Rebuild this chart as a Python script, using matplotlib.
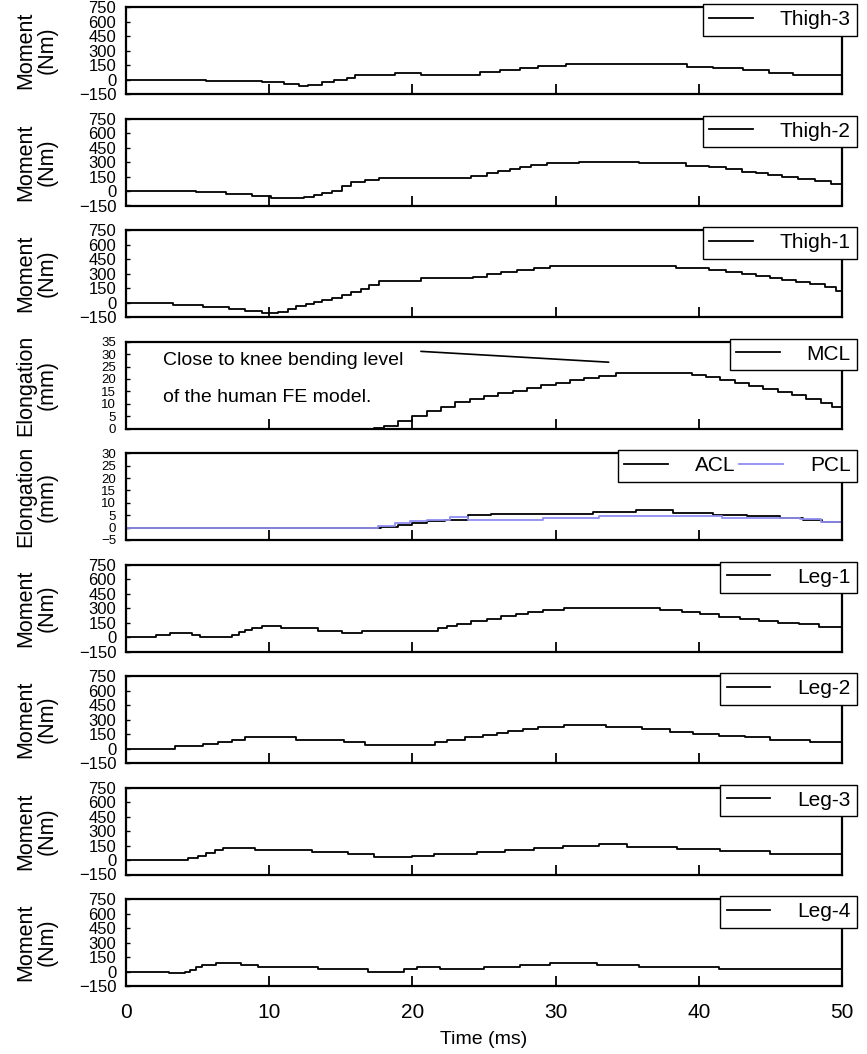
import matplotlib
matplotlib.use("Agg")
import matplotlib.pyplot as plt

plt.rcParams['font.family'] = ['Liberation Sans', 'DejaVu Sans']

# step breakpoints (ms) and values for every channel
t_thigh3 = [0, 5.6, 9.5, 11.0, 12.1, 12.7, 13.7, 14.5, 15.4, 16.0, 18.8, 20.6, 24.7, 26.1, 27.5, 28.8,
            30.7, 39.2, 41.0, 43.1, 44.9, 46.6, 50]
m_thigh3 = [0, -10, -30, -50, -70, -55, -30, 0, 20, 45, 70, 45, 75, 100, 120, 140,
            160, 135, 115, 95, 70, 45, 45]

t_thigh2 = [0, 4.9, 7.0, 8.8, 10.1, 12.4, 13.1, 13.7, 14.4, 15.1, 15.7, 16.7, 17.7, 24.1, 25.2, 26.0,
            26.8, 27.5, 28.3, 29.4, 31.6, 35.8, 39.1, 40.7, 41.9, 43.0, 44.0, 44.8, 45.8, 46.9,
            48.1, 49.2, 50]
m_thigh2 = [0, -10, -35, -55, -75, -60, -40, -20, 5, 50, 90, 115, 140, 160, 185, 205,
            225, 250, 270, 290, 305, 290, 265, 245, 225, 200, 185, 165, 145, 120,
            105, 75, 75]

t_thigh1 = [0, 3.3, 5.4, 7.2, 8.3, 9.5, 10.6, 11.3, 11.9, 12.6, 13.1, 13.7, 14.4, 15.1, 15.7, 16.4,
            17.0, 17.7, 20.6, 24.2, 25.2, 26.2, 27.3, 28.5, 29.6, 38.4, 40.7, 41.9, 43.0, 44.0,
            45.0, 45.8, 46.8, 47.8, 48.8, 49.6, 50]
m_thigh1 = [0, -25, -45, -70, -90, -110, -95, -65, -40, -15, 5, 30, 50, 75, 110, 145,
            185, 225, 250, 270, 295, 315, 335, 355, 375, 360, 340, 320, 300, 275,
            255, 235, 215, 190, 165, 120, 120]

t_mcl = [0, 17.3, 18, 19, 20, 21, 22, 23, 24, 25, 26, 27, 28, 29, 30, 31, 32, 33, 34.2, 39.5,
         40.5, 41.5, 42.5, 43.5, 44.5, 45.5, 46.5, 47.5, 48.5, 49.3, 50]
e_mcl = [0, 0.3, 1.2, 3.2, 5.2, 7.0, 8.8, 10.5, 11.9, 13.1, 14.2, 15.3, 16.3, 17.4, 18.4, 19.4,
         20.4, 21.3, 22.6, 21.5, 20.6, 19.6, 18.5, 17.3, 16.1, 14.8, 13.4, 11.9, 10.3, 8.6, 7.3]

t_acl = [0, 17.8, 19, 20, 21, 22.3, 23.9, 25.5, 32.6, 35.6, 38.2, 41, 43.4, 45.7, 47.3, 48.6, 50]
e_acl = [0, 0.3, 1.0, 1.8, 2.6, 3.2, 4.9, 5.5, 6.2, 7.2, 6.0, 5.1, 4.5, 3.8, 2.9, 2.4, 2.4]

t_pcl = [0, 17.6, 18.8, 19.8, 21, 22.6, 23.9, 29.1, 33, 41.6, 47.1, 48.5, 50]
e_pcl = [0, 0.7, 1.7, 2.5, 3.2, 4.1, 3.2, 4.0, 4.8, 4.0, 3.4, 2.4, 2.4]

t_leg1 = [0, 2.1, 3.1, 4.6, 5.2, 7.4, 7.9, 8.3, 8.8, 9.5, 10.8, 13.4, 15.1, 16.5, 21.8, 22.4,
          23.1, 24.1, 25.2, 26.2, 27.2, 28.1, 29.1, 30.6, 37.3, 38.8, 40.1, 41.4, 42.9, 44.2,
          45.5, 47.0, 48.4, 50]
m_leg1 = [0, 20, 45, 25, 0, 25, 50, 75, 95, 115, 90, 65, 45, 65, 90, 115,
          140, 165, 190, 215, 240, 260, 285, 300, 280, 255, 235, 210, 190, 170,
          150, 135, 105, 105]

t_leg2 = [0, 3.4, 5.4, 6.4, 7.4, 8.3, 11.9, 15.2, 16.7, 21.6, 22.4, 23.7, 24.9, 25.9, 26.7, 27.7,
          28.8, 30.6, 33.5, 36.0, 38.0, 39.6, 41.4, 43.2, 45.0, 47.8, 50]
m_leg2 = [0, 30, 50, 70, 90, 115, 90, 65, 40, 65, 90, 115, 140, 160, 180, 200,
          220, 245, 220, 200, 175, 150, 135, 115, 90, 70, 70]

t_leg3 = [0, 4.3, 5.0, 5.6, 6.2, 6.8, 9.0, 13.0, 15.5, 17.3, 20.0, 21.5, 24.5, 26.5, 28.5, 30.5,
          33.0, 35.0, 38.5, 41.5, 45.0, 50]
m_leg3 = [0, 20, 45, 75, 100, 125, 105, 85, 60, 30, 45, 65, 80, 100, 125, 150,
          165, 140, 115, 90, 65, 65]

t_leg4 = [0, 3.0, 4.1, 4.5, 4.9, 5.3, 6.3, 8.0, 9.2, 13.4, 16.9, 19.4, 20.3, 21.9, 25.0, 27.5,
          29.6, 32.9, 35.8, 41.4, 50]
m_leg4 = [0, -15, 0, 15, 45, 70, 90, 70, 45, 25, 0, 25, 45, 25, 45, 70,
          90, 70, 45, 25, 25]

moment_ticks = [-150, 0, 150, 300, 450, 600, 750]

panels = [
    ('Moment\n(Nm)', (-150, 750), moment_ticks, [('Thigh-3', t_thigh3, m_thigh3, 'black')]),
    ('Moment\n(Nm)', (-150, 750), moment_ticks, [('Thigh-2', t_thigh2, m_thigh2, 'black')]),
    ('Moment\n(Nm)', (-150, 750), moment_ticks, [('Thigh-1', t_thigh1, m_thigh1, 'black')]),
    ('Elongation\n(mm)', (0, 35), list(range(0, 36, 5)), [('MCL', t_mcl, e_mcl, 'black')]),
    ('Elongation\n(mm)', (-5, 30), list(range(-5, 31, 5)),
     [('ACL', t_acl, e_acl, 'black'), ('PCL', t_pcl, e_pcl, '#8f8ff2')]),
    ('Moment\n(Nm)', (-150, 750), moment_ticks, [('Leg-1', t_leg1, m_leg1, 'black')]),
    ('Moment\n(Nm)', (-150, 750), moment_ticks, [('Leg-2', t_leg2, m_leg2, 'black')]),
    ('Moment\n(Nm)', (-150, 750), moment_ticks, [('Leg-3', t_leg3, m_leg3, 'black')]),
    ('Moment\n(Nm)', (-150, 750), moment_ticks, [('Leg-4', t_leg4, m_leg4, 'black')]),
]

W, H = 867, 1054
fig = plt.figure(figsize=(W / 100, H / 100), dpi=100)

left_px, width_px = 126, 716
top0_px, pitch_px, height_px = 7.3, 111.5, 86.7

for i, (ylab, ylim, yticks, series) in enumerate(panels):
    top = top0_px + pitch_px * i
    ax = fig.add_axes([left_px / W, 1 - (top + height_px) / H, width_px / W, height_px / H])
    for name, t, v, col in series:
        ax.step(t, v, where='post', color=col, lw=1.3, label=name)
    ax.set_xlim(0, 50)
    ax.set_ylim(*ylim)
    ax.set_xticks([0, 10, 20, 30, 40, 50])
    ax.set_yticks(yticks)
    for sp in ax.spines.values():
        sp.set_linewidth(1.6)
    # elongation axes carry 8 labels in the same height, so use a smaller size
    ysize = 12 if len(yticks) <= 7 else 9.5
    ax.tick_params(axis='x', direction='in', length=7, width=1.3, labelsize=15, pad=12)
    ax.tick_params(axis='y', direction='in', length=3, width=1.0, labelsize=ysize, pad=7)
    if i < len(panels) - 1:
        ax.tick_params(axis='x', labelbottom=False)
    else:
        ax.set_xlabel('Time (ms)', fontsize=14, labelpad=7)
    ax.set_ylabel(ylab, fontsize=15.5, linespacing=1.05)
    ax.yaxis.set_label_coords(-0.095, 0.5)

    leg = ax.legend(loc='upper right', bbox_to_anchor=(1.021, 1.038), borderaxespad=0,
                    fancybox=False, edgecolor='black', framealpha=1, fontsize=15,
                    handlelength=2.1, handletextpad=1.3, borderpad=0.3,
                    ncol=len(series), columnspacing=0.2)
    leg.get_frame().set_linewidth(1.0)

    if ylab.startswith('Elongation') and len(series) == 1:
        ax.text(2.6, 27.5, 'Close to knee bending level', fontsize=14, va='center')
        ax.text(2.6, 12.5, 'of the human FE model.', fontsize=14, va='center')
        ax.annotate('', xy=(33.9, 26.7), xytext=(20.4, 31.2),
                    arrowprops=dict(arrowstyle='-', lw=1.2, color='black'))

fig.savefig('out.png', dpi=100)
